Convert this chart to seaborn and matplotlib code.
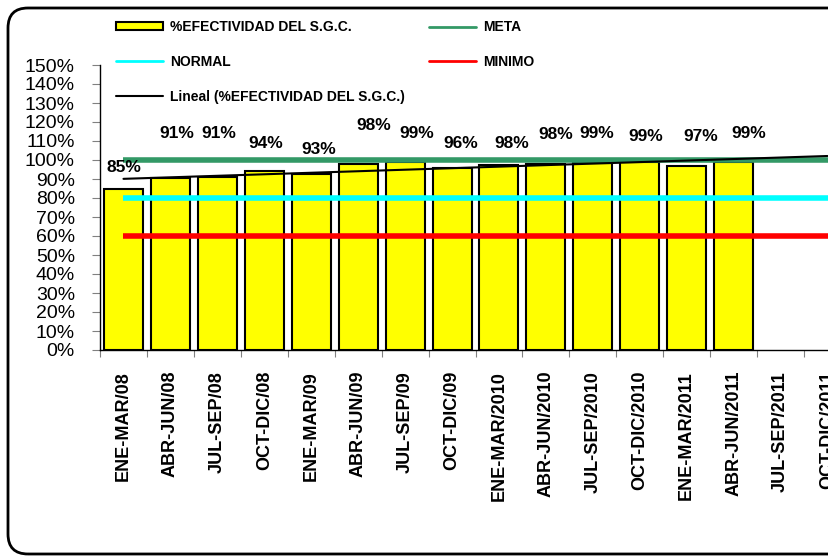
import numpy as np
import pandas as pd
import matplotlib
matplotlib.use("Agg")
import matplotlib.pyplot as plt
from matplotlib.patches import FancyBboxPatch, Patch
from matplotlib.lines import Line2D
from matplotlib.ticker import PercentFormatter
import seaborn as sns

# ---- data ----
categories = ["ENE-MAR/08", "ABR-JUN/08", "JUL-SEP/08", "OCT-DIC/08",
              "ENE-MAR/09", "ABR-JUN/09", "JUL-SEP/09", "OCT-DIC/09",
              "ENE-MAR/2010", "ABR-JUN/2010", "JUL-SEP/2010", "OCT-DIC/2010",
              "ENE-MAR/2011", "ABR-JUN/2011", "JUL-SEP/2011", "OCT-DIC/2011"]
efectividad = [0.850, 0.906, 0.911, 0.942, 0.928, 0.977, 0.988, 0.960,
               0.976, 0.977, 0.986, 0.987, 0.966, 0.987]
META = 1.00
NORMAL = 0.80
MINIMO = 0.60
y_ticks = [0.0, 0.1, 0.2, 0.3, 0.4, 0.5, 0.6, 0.7, 0.8, 0.9, 1.0, 1.1, 1.2, 1.3, 1.4, 1.5]

# label placement (style only): vertical centre of each value label, horizontal nudge in px
label_y = [0.958, 1.14, 1.14, 1.088, 1.053, 1.179, 1.137, 1.088,
           1.088, 1.132, 1.137, 1.123, 1.126, 1.14]
label_dx = [0, 6, 1, 1, 8, 16, 12, 9, 13, 10, 4, 6, 14, 15]

sns.set_style("white")
plt.rcParams["font.family"] = ["Liberation Sans", "DejaVu Sans"]
plt.rcParams["text.color"] = "black"
plt.rcParams["xtick.color"] = "black"
plt.rcParams["ytick.color"] = "black"

W, H = 829, 556
fig = plt.figure(figsize=(W / 100, H / 100), dpi=100)

# rounded chart border (extends past the right edge, as in the reference)
border = FancyBboxPatch((0.08, 0.02), 9.0, 5.46,
                        boxstyle="round,pad=0,rounding_size=0.2",
                        transform=fig.dpi_scale_trans, fill=False,
                        edgecolor="black", linewidth=2.0, zorder=0)
fig.patches.append(border)

ax = fig.add_axes([100 / W, 1 - 350 / H, 751 / W, 285 / H])

df = pd.DataFrame({"periodo": categories[:len(efectividad)],
                   "efectividad": efectividad})
sns.barplot(data=df, x="periodo", y="efectividad", order=categories,
            color="#FFFF00", saturation=1, edgecolor="black", linewidth=1.5,
            width=0.83, ax=ax, zorder=2)

xs = np.arange(len(categories))
ax.plot(xs, np.full(len(xs), META), color="#339966", lw=4, zorder=3, solid_capstyle="butt")
ax.plot(xs, np.full(len(xs), NORMAL), color="#00FFFF", lw=4, zorder=3, solid_capstyle="butt")
ax.plot(xs, np.full(len(xs), MINIMO), color="#FF0000", lw=4, zorder=3, solid_capstyle="butt")

# linear trend (Excel "Lineal") fitted on the available points
xi = np.arange(1, len(efectividad) + 1)
slope, intercept = np.polyfit(xi, efectividad, 1)
trend = intercept + slope * (xs + 1)
ax.plot(xs, trend, color="black", lw=1.5, zorder=4)

# value labels
for i, v in enumerate(efectividad):
    ax.annotate(f"{v * 100:.0f}%", xy=(i, label_y[i]), xytext=(label_dx[i] * 0.72, 0),
                textcoords="offset points", ha="center", va="center",
                fontsize=12.5, fontweight="bold", color="black", zorder=5)

ax.set_xlim(-0.5, len(categories) - 0.5)
ax.set_ylim(0, 1.5)
ax.set_yticks(y_ticks)
ax.yaxis.set_major_formatter(PercentFormatter(1.0, decimals=0))
ax.set_xlabel("")
ax.set_ylabel("")

# ticks at category boundaries, labels at centres
ax.set_xticks(np.arange(len(categories) + 1) - 0.5)
ax.set_xticklabels([])
ax.set_xticks(xs, minor=True)
ax.set_xticklabels(categories, minor=True, rotation=90, fontsize=13,
                   fontweight="bold", va="top", ha="center")
ax.tick_params(axis="x", which="major", length=5, color="#808080", direction="out", bottom=True)
ax.tick_params(axis="x", which="minor", length=0, pad=15, labelcolor="black")
ax.tick_params(axis="y", length=6, color="#808080", direction="out", left=True,
               labelsize=14, pad=12, labelcolor="black")

for s in ["top", "right"]:
    ax.spines[s].set_visible(False)
for s in ["left", "bottom"]:
    ax.spines[s].set_color("black")
    ax.spines[s].set_linewidth(1.0)
ax.grid(False)

# legend
handles = [
    Patch(facecolor="#FFFF00", edgecolor="black", linewidth=1.5),
    Line2D([], [], color="#00FFFF", lw=2),
    Line2D([], [], color="black", lw=1.5),
    Line2D([], [], color="#339966", lw=2),
    Line2D([], [], color="#FF0000", lw=2),
]
labels = ["%EFECTIVIDAD DEL S.G.C.", "NORMAL", "Lineal (%EFECTIVIDAD DEL S.G.C.)",
          "META", "MINIMO"]
fig.legend(handles, labels, ncol=2, loc="upper left",
           bbox_to_anchor=(116 / W, 1 - 20 / H), frameon=False,
           prop={"family": "Liberation Sans", "weight": "bold", "size": 10},
           handlelength=3.4, handleheight=0.5, handletextpad=0.5,
           labelspacing=1.5, columnspacing=1.7, borderpad=0, borderaxespad=0)

fig.savefig("out.png", dpi=100)
